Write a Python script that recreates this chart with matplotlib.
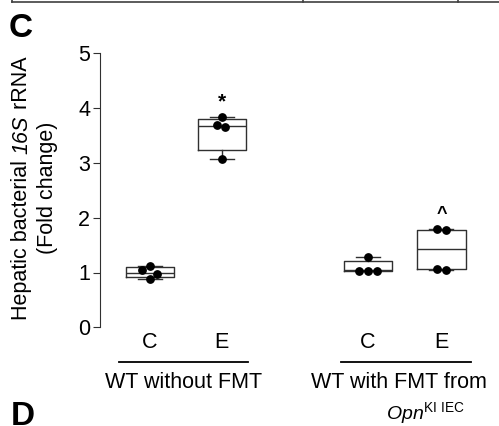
import matplotlib
matplotlib.use("Agg")
import matplotlib.pyplot as plt
from matplotlib.lines import Line2D
import numpy as np

plt.rcParams['font.family'] = ['Liberation Sans', 'DejaVu Sans']
plt.rcParams['mathtext.fontset'] = 'custom'
plt.rcParams['mathtext.rm'] = 'Liberation Sans'
plt.rcParams['mathtext.it'] = 'Liberation Sans:italic'

# Data
categories = ['C', 'E', 'C', 'E']
x_pos = [0, 1, 3.03, 4.05]
points = [
    [1.11, 1.04, 0.98, 0.88],
    [3.84, 3.69, 3.66, 3.07],
    [1.28, 1.02, 1.02, 1.02],
    [1.80, 1.77, 1.07, 1.04],
]
jitter = [
    [0.0, -0.1, 0.1, 0.0],
    [0.0, -0.07, 0.05, 0.0],
    [0.0, -0.12, 0.0, 0.12],
    [-0.06, 0.06, -0.06, 0.06],
]
box_q1 = [0.92, 3.23, 1.02, 1.07]
box_med = [1.00, 3.68, 1.04, 1.42]
box_q3 = [1.10, 3.80, 1.21, 1.77]
whisk_lo = [0.88, 3.07, 1.02, 1.04]
whisk_hi = [1.11, 3.84, 1.28, 1.80]
marks = ['', '*', '', '^']
mark_y = [None, 4.12, None, 2.05]
groups = ['WT without FMT', 'WT with FMT from']
group_span = [(-0.42, 1.36), (2.65, 4.46)]
group_label_x = [0.47, 3.46]
ylabel_parts = [('Hepatic bacterial ', 'normal'), ('16S', 'italic'), (' rRNA', 'normal')]
ylabel_line2 = '(Fold change)'

W, H = 499, 426
fig = plt.figure(figsize=(W / 100, H / 100), dpi=100)
y0_px, y5_px = 327.3, 53.3
ax = fig.add_axes([100 / W, (H - y0_px) / H, (W - 100) / W, (y0_px - y5_px) / H])
ax.set_ylim(0, 5)
ax.set_xlim(-0.69, 4.85)

stats = []
for i in range(4):
    stats.append(dict(med=box_med[i], q1=box_q1[i], q3=box_q3[i],
                      whislo=whisk_lo[i], whishi=whisk_hi[i], fliers=[]))
lc = '#303030'
ax.bxp(stats, positions=x_pos, widths=0.67, showfliers=False,
       boxprops=dict(color=lc, lw=1.0), medianprops=dict(color=lc, lw=1.0),
       whiskerprops=dict(color=lc, lw=1.0), capprops=dict(color=lc, lw=1.0),
       capwidths=0.33, manage_ticks=False)

for i in range(4):
    xs = np.array(jitter[i]) + x_pos[i]
    ax.scatter(xs, points[i], s=28, color='black', zorder=5)
    if marks[i]:
        ax.text(x_pos[i], mark_y[i], marks[i], ha='center', va='center',
                fontsize=15 if marks[i] == '*' else 13, fontweight='bold')

for s in ['top', 'right', 'bottom']:
    ax.spines[s].set_visible(False)
ax.spines['left'].set_color('#303030')
ax.set_yticks([0, 1, 2, 3, 4, 5])
ax.tick_params(axis='y', labelsize=15.5, length=5, color='#303030', pad=2)
ax.set_xticks([])

for i in range(4):
    ax.text(x_pos[i], -0.27, categories[i], ha='center', va='center', fontsize=15.5,
            clip_on=False)

for (a, b), g, gx in zip(group_span, groups, group_label_x):
    ax.plot([a, b], [-0.63, -0.63], color='black', lw=1.3, clip_on=False)
    ax.text(gx, -1.0, g, ha='center', va='center', fontsize=15.5, clip_on=False)
ax.text(3.82, -1.57, r'$\mathit{Opn}^{\mathrm{KI\ IEC}}$',
        ha='center', va='center', fontsize=14, clip_on=False)

# y label line 1 with italic part, built from pieces
renderer = fig.canvas.get_renderer()
ylfs = 15.5
def text_len(s, style):
    t = fig.text(0, 0, s.replace(' ', '\u00a0'), fontsize=ylfs, style=style)
    w = t.get_window_extent(renderer).width
    t.remove()
    return w
lens = [text_len(s, st) for s, st in ylabel_parts]
total = sum(lens)
yc = H - 188
ystart = yc - total / 2
for (s, st), L in zip(ylabel_parts, lens):
    fig.text(27 / W, ystart / H, s.replace(' ', '\u00a0'), fontsize=ylfs, style=st,
             rotation=90, rotation_mode='anchor', ha='left', va='baseline')
    ystart += L
fig.text(53 / W, yc / H, ylabel_line2, rotation=90, rotation_mode='anchor',
         ha='center', va='baseline', fontsize=ylfs)

fig.text(9 / W, 1 - 13 / H, 'C', fontsize=24, fontweight='bold', ha='left', va='top')
fig.text(11 / W, 1 - 401 / H, 'D', fontsize=24, fontweight='bold', ha='left', va='top')

# top border remnant
fig.add_artist(Line2D([12 / W, 1], [1 - 1.5 / H, 1 - 1.5 / H], color='#404040', lw=1.2))
for xv in [12, 303, 458]:
    fig.add_artist(Line2D([xv / W, xv / W], [1 - 1.5 / H, 1], color='#404040', lw=1.2))

fig.savefig('out.png', dpi=100)
